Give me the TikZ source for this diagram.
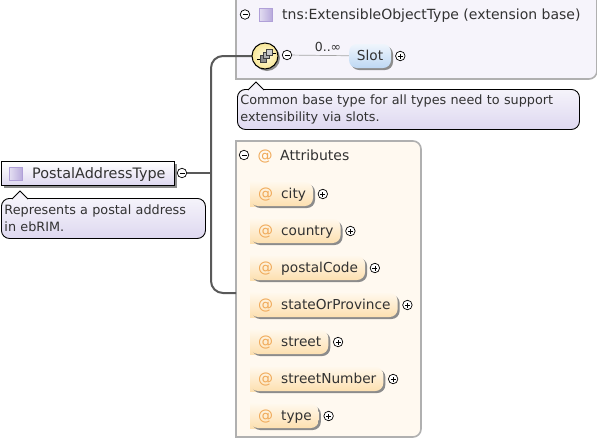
\documentclass[tikz,border=0pt]{standalone}
\usepackage{fontspec}
\setmainfont{DejaVu Sans}
\usepackage{xcolor}
\usetikzlibrary{calc, shadows, positioning}
\definecolor{attrorange}{RGB}{240,170,90}
\definecolor{attrtop}{RGB}{255,248,236}
\definecolor{attrbottom}{RGB}{253,224,176}
\definecolor{attrbg}{RGB}{255,249,240}
\definecolor{basebg}{RGB}{246,244,251}
\definecolor{lavender}{RGB}{222,216,240}
\definecolor{boxgray}{RGB}{176,176,176}
\definecolor{textgray}{RGB}{50,50,50}
\definecolor{slotblue}{RGB}{190,216,244}
\definecolor{squarepurple}{RGB}{176,160,216}
\definecolor{ballin}{RGB}{255,252,225}
\definecolor{ballout}{RGB}{248,230,150}
\newcommand{\attrlabel}[1]{\hspace{8pt}\textcolor{attrorange}{\fontsize{15}{15}\selectfont @}\hspace{8pt}#1\hspace{7pt}\null}
\tikzset{
    softshadow/.style={drop shadow={shadow xshift=2pt, shadow yshift=-2pt, fill=black!45, opacity=1}},
    typebox/.style={draw=black, line width=1pt, top color=white, bottom color=lavender, minimum height=24pt, softshadow},
    notebox/.style={draw=black, line width=0.9pt, rounded corners=8pt, top color=white!70!lavender, bottom color=lavender, text=textgray, inner sep=2pt, align=left, anchor=north west, font=\fontsize{12.8}{17}\selectfont},
    notetip/.style={draw=black, line width=0.9pt, fill=white!70!lavender},
    attrbox/.style={rounded corners=8pt, anchor=west, minimum height=24pt, text height=11pt, text depth=3pt, inner xsep=0pt, inner ysep=0pt, top color=attrtop, bottom color=attrbottom, text=textgray, font=\fontsize{13.7}{15}\selectfont, softshadow,
        append after command={\pgfextra{\shade[top color=attrtop, bottom color=attrbottom] (\tikzlastnode.north west) rectangle ($(\tikzlastnode.south west)+(8pt,0)$);}}},
    slotbox/.style={rounded corners=8pt, minimum height=24pt, minimum width=42pt, text height=11pt, text depth=3pt, inner xsep=0pt, inner ysep=0pt, top color=white!75!slotblue, bottom color=slotblue, text=textgray, font=\fontsize{13.7}{15}\selectfont, softshadow},
    container/.style={draw=boxgray, line width=1.6pt},
    trunk/.style={draw=black!65, line width=2pt, rounded corners=12pt},
    caption/.style={text=textgray, font=\fontsize{14}{15}\selectfont, anchor=base west, inner sep=0pt},
    atsign/.style={text=attrorange, font=\fontsize{15}{15}\selectfont, inner sep=0pt, anchor=base},
    square/.style={draw=squarepurple, line width=0.8pt, left color=squarepurple!35, right color=squarepurple!90, minimum size=13pt, inner sep=0pt},
    minusbtn/.style={circle, draw=black, fill=white, line width=0.7pt, minimum size=9.5pt, inner sep=0pt, path picture={\draw[line width=0.7pt] ($(path picture bounding box.center)+(-2.5pt,0)$) -- ($(path picture bounding box.center)+(2.5pt,0)$);}},
    plusbtn/.style={minusbtn, path picture={\draw[line width=0.7pt] ($(path picture bounding box.center)+(-2.5pt,0)$) -- ($(path picture bounding box.center)+(2.5pt,0)$) ($(path picture bounding box.center)+(0,-2.5pt)$) -- ($(path picture bounding box.center)+(0,2.5pt)$);}},
    seqball/.style={circle, draw=black, line width=1pt, minimum size=26pt, inner sep=0pt, inner color=ballin, outer color=ballout, softshadow},
    seqcell/.style={draw=black!75, fill=black!45, line width=0.6pt}
}
\begin{document}
\begin{tikzpicture}[x=1pt, y=-1pt]
    \useasboundingbox (0,0) rectangle (597,440);
    % containers
    \draw[container, fill=basebg] (236,-3) -- (597,-3) [rounded corners=8pt] -- (597,79) [sharp corners] -- (236,79) -- cycle;
    \draw[container, fill=attrbg] (236,141) [rounded corners=8pt] -- (421,141) -- (421,437) [sharp corners] -- (236,437) -- cycle;
    \shade[left color=basebg, middle color=black!22, right color=basebg] (238,29) rectangle (508,31);
    \shade[left color=attrbg, middle color=black!20, right color=attrbg] (238,170) rectangle (375,172);
    % trunk
    \node[typebox, anchor=west, minimum width=173pt, inner sep=0pt] (postal) at (1,173.5) {};
    \node[square] (postalsq) at (16,174) {};
    \node[caption, font=\fontsize{14.4}{15}\selectfont] (postaltxt) at (32,178) {PostalAddressType};
    \node[minusbtn] (postalbtn) at (182,173) {};
    \coordinate (attrin) at (236,293);
    \coordinate (turn) at (211,173);
    \coordinate (seqin) at (265,56);
    \draw[trunk] (postalbtn) -- (turn);
    \draw[trunk] (seqin) -- (turn |- seqin) -- (turn) -- (turn |- attrin) -- (attrin);
    \node[seqball] (seq) at (seqin) {};
    \draw[line width=0.8pt] (257,59.5) -- (261,59.5) (272,53) -- (276,53);
    \draw[seqcell] (260,55) rectangle (266,62);
    \draw[seqcell, fill=black!30] (263,52) rectangle (269,58);
    \draw[seqcell, fill=black!20] (266,49.5) rectangle (272,55.5);
    % notes
    \node[notebox, minimum width=204pt, minimum height=40pt, text width=198pt] (postalnote) at (1,198) {Represents a postal address\\in ebRIM.};
    \draw[notetip] (12,199) -- (20,191) -- (28,199);
    \node[notebox, minimum width=342pt, minimum height=40pt, text width=336pt] (basenote) at (237,89) {Common base type for all types need to support\\extensibility via slots.};
    \draw[notetip] (248,90) -- (256,82) -- (264,90);
    % extension header
    \node[minusbtn] (basebtn) at (245,14.5) {};
    \node[square] (basesq) at (265.5,15) {};
    \node[caption] (basetxt) at (282,19) {tns:ExtensibleObjectType (extension base)};
    % slot
    \node[minusbtn] (seqbtn) at (287,55) {};
    \node[slotbox] (slot) at (370,56) {Slot};
    \node[plusbtn, right=4pt of slot] (slotbtn) {};
    \draw[black!35, line width=0.7pt] (seqbtn) -- (slot);
    \node[text=textgray, font=\fontsize{12.5}{13}\selectfont, inner sep=0pt] (slotcount) at (328,47) {0..∞};
    % attributes
    \node[minusbtn] (attrbtn) at (244,155) {};
    \node[atsign] (attrat) at (265,160) {@};
    \node[caption] (attrtxt) at (280,160) {Attributes};
    \node[attrbox] (city) at (250,194) {\attrlabel{city}};
    \node[plusbtn, right=4.5pt of city] (citybtn) {};
    \node[attrbox] (country) at (250,231) {\attrlabel{country}};
    \node[plusbtn, right=4.5pt of country] (countrybtn) {};
    \node[attrbox] (postalcode) at (250,268) {\attrlabel{postalCode}};
    \node[plusbtn, right=4.5pt of postalcode] (postalcodebtn) {};
    \node[attrbox] (state) at (250,305) {\attrlabel{stateOrProvince}};
    \node[plusbtn, right=4.5pt of state] (statebtn) {};
    \node[attrbox] (street) at (250,342) {\attrlabel{street}};
    \node[plusbtn, right=4.5pt of street] (streetbtn) {};
    \node[attrbox] (streetnum) at (250,379) {\attrlabel{streetNumber}};
    \node[plusbtn, right=4.5pt of streetnum] (streetnumbtn) {};
    \node[attrbox] (type) at (250,416) {\attrlabel{type}};
    \node[plusbtn, right=4.5pt of type] (typebtn) {};
\end{tikzpicture}
\end{document}
